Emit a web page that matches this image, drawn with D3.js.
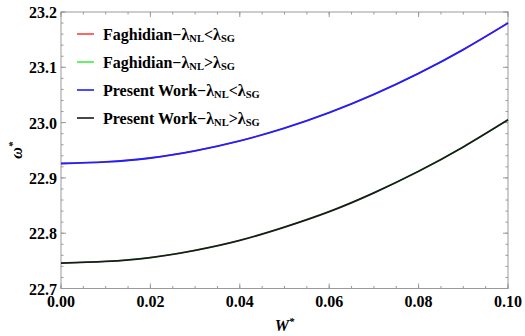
<!DOCTYPE html>
<html lang="en">
<head>
<meta charset="utf-8">
<script src="https://cdn.jsdelivr.net/npm/d3@7"></script>
<style>
  body { margin: 0; background: #fff; }
  svg text { font-family: "Liberation Serif", "Times New Roman", "DejaVu Serif", serif; font-weight: bold; }
  .frame line { stroke: #999; }
</style>
</head>
<body>
<script>
var W = [0, 0.01, 0.02, 0.03, 0.04, 0.05, 0.06, 0.07, 0.08, 0.09, 0.10];
var faghLess    = [22.926, 22.929, 22.936, 22.949, 22.967, 22.990, 23.018, 23.051, 23.089, 23.132, 23.180];
var faghGreater = [22.746, 22.749, 22.756, 22.769, 22.787, 22.811, 22.839, 22.873, 22.912, 22.956, 23.005];
var presLess    = [22.926, 22.929, 22.936, 22.949, 22.967, 22.990, 23.018, 23.051, 23.089, 23.132, 23.180];
var presGreater = [22.746, 22.749, 22.756, 22.769, 22.787, 22.811, 22.839, 22.873, 22.912, 22.956, 23.005];
var xTicks = [0, 0.02, 0.04, 0.06, 0.08, 0.10];
var yTicks = [22.7, 22.8, 22.9, 23.0, 23.1, 23.2];

var series = [
  { name: "Faghidian", rel: "<", values: faghLess, color: "#ff4040", w: 1.4 },
  { name: "Faghidian", rel: ">", values: faghGreater, color: "#40ee40", w: 1.4 },
  { name: "Present Work", rel: "<", values: presLess, color: "#2020ff", w: 1.8 },
  { name: "Present Work", rel: ">", values: presGreater, color: "#1a1a1a", w: 1.8 }
];

var width = 525, height = 336;
var m = { left: 61, right: 17, top: 12, bottom: 47.5 };

var svg = d3.select("body").append("svg").attr("width", width).attr("height", height);

var x = d3.scaleLinear().domain([0, 0.1]).range([m.left, width - m.right]);
var y = d3.scaleLinear().domain([22.7, 23.2]).range([height - m.bottom, m.top]);

var xMinor = d3.range(0, 0.1001, 0.005);
var yMinor = d3.range(22.7, 23.2001, 0.02);

// frame with ticks on all sides, pointing inward
var frame = svg.append("g").attr("class", "frame");
frame.append("rect")
  .attr("x", x(0)).attr("y", y(23.2))
  .attr("width", x(0.1) - x(0)).attr("height", y(22.7) - y(23.2))
  .attr("fill", "none").attr("stroke", "#999");

function tickSet(vals, len, axis) {
  vals.forEach(function(v) {
    if (axis === "x") {
      frame.append("line").attr("x1", x(v)).attr("x2", x(v)).attr("y1", y(22.7)).attr("y2", y(22.7) - len);
      frame.append("line").attr("x1", x(v)).attr("x2", x(v)).attr("y1", y(23.2)).attr("y2", y(23.2) + len);
    } else {
      frame.append("line").attr("y1", y(v)).attr("y2", y(v)).attr("x1", x(0)).attr("x2", x(0) + len);
      frame.append("line").attr("y1", y(v)).attr("y2", y(v)).attr("x1", x(0.1)).attr("x2", x(0.1) - len);
    }
  });
}
tickSet(xMinor, 2.5, "x");
tickSet(xTicks, 5, "x");
tickSet(yMinor, 2.5, "y");
tickSet(yTicks, 5, "y");

svg.append("g").selectAll("text").data(xTicks).enter().append("text")
  .attr("x", function(d) { return x(d); })
  .attr("y", y(22.7) + 18.5)
  .attr("text-anchor", "middle")
  .attr("font-size", 16)
  .text(function(d) { return d3.format(".2f")(d); });

svg.append("g").selectAll("text").data(yTicks).enter().append("text")
  .attr("x", x(0) - 4)
  .attr("y", function(d) { return y(d) + 6; })
  .attr("text-anchor", "end")
  .attr("font-size", 16)
  .text(function(d) { return d3.format(".1f")(d); });

// axis labels
var xl = svg.append("text").attr("x", (x(0) + x(0.1)) / 2).attr("y", 331)
  .attr("text-anchor", "middle").attr("font-size", 16).attr("font-style", "italic");
xl.append("tspan").text("W");
xl.append("tspan").attr("dy", -6).attr("font-size", 11).text("*");

var yl = svg.append("text")
  .attr("transform", "translate(22," + ((y(22.7) + y(23.2)) / 2) + ") rotate(-90)")
  .attr("text-anchor", "middle").attr("font-size", 16).attr("font-style", "italic");
yl.append("tspan").text("ω");
yl.append("tspan").attr("dy", -6).attr("font-size", 11).text("*");

// curves
var line = d3.line()
  .x(function(d, i) { return x(W[i]); })
  .y(function(d) { return y(d); })
  .curve(d3.curveNatural);

svg.append("g").selectAll("path").data(series).enter().append("path")
  .attr("d", function(s) { return line(s.values); })
  .attr("fill", "none")
  .attr("stroke", function(s) { return s.color; })
  .attr("stroke-width", function(s) { return s.w; });

// legend
var lg = svg.append("g").attr("transform", "translate(77,34)");
series.forEach(function(s, i) {
  var g = lg.append("g").attr("transform", "translate(0," + i * 28 + ")");
  g.append("line").attr("x1", 0).attr("x2", 17).attr("y1", 0).attr("y2", 0)
    .attr("stroke", s.color).attr("stroke-width", 1.6);
  var t = g.append("text").attr("x", 26).attr("y", 5.5).attr("font-size", 16);
  t.append("tspan").text(s.name + "\u2212\u03bb");
  t.append("tspan").attr("font-size", 10.5).attr("dy", 2).text("NL");
  t.append("tspan").attr("dy", -2).text(s.rel + "\u03bb");
  t.append("tspan").attr("font-size", 10.5).attr("dy", 2).text("SG");
});
</script>
</body>
</html>
